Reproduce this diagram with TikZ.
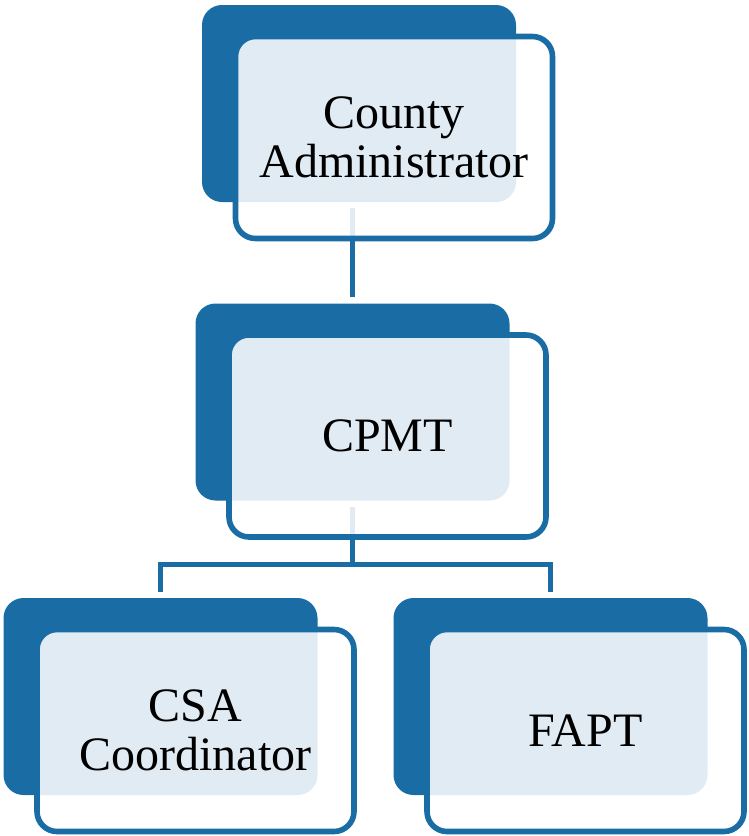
\documentclass[tikz,border=0pt]{standalone}
\usepackage{fontspec}
\setmainfont{Liberation Serif}

\definecolor{orgblue}{RGB}{26,108,165}

\begin{document}
\begin{tikzpicture}[
    x=0.5pt, y=-0.5pt,
    back/.style={fill=orgblue, rounded corners=10pt, inner sep=0pt, minimum width=157pt, minimum height=98.5pt},
    front/.style={draw=orgblue, line width=2.8pt, fill=white, fill opacity=0.87, text opacity=1,
      rounded corners=10pt, minimum width=158.5pt, minimum height=101pt, align=center,
      font=\fontsize{24}{24.5}\selectfont, xshift=17.5pt, yshift=-17pt},
    link/.style={draw=orgblue, line width=2.5pt, shorten <=3pt, shorten >=3pt}
  ]
    \useasboundingbox (0,0) rectangle (749,836);

    % dark tabs behind each box
    \node[back] (admin-back) at (359,103.5) {};
    \node[back] (cpmt-back) at (352.5,402) {};
    \node[back] (csa-back) at (160.5,696.5) {};
    \node[back] (fapt-back) at (550.5,696.5) {};

    % links run behind the front boxes
    \coordinate (split) at ([yshift=-32pt]cpmt-back.south);
    \draw[link] (admin-back.south -| cpmt-back.north) -- (cpmt-back.north);
    \draw[link, shorten >=0pt] (cpmt-back.south) -- (split);
    \draw[link, shorten <=0pt] (split) -| (csa-back.north);
    \draw[link, shorten <=0pt] (split) -| (fapt-back.north);

    \node[front] (admin) at (admin-back) {County\\Administrator};
    \node[front] (cpmt) at (cpmt-back) {CPMT};
    \node[front] (csa) at (csa-back) {CSA\\Coordinator};
    \node[front] (fapt) at (fapt-back) {FAPT};
  \end{tikzpicture}
\end{document}
